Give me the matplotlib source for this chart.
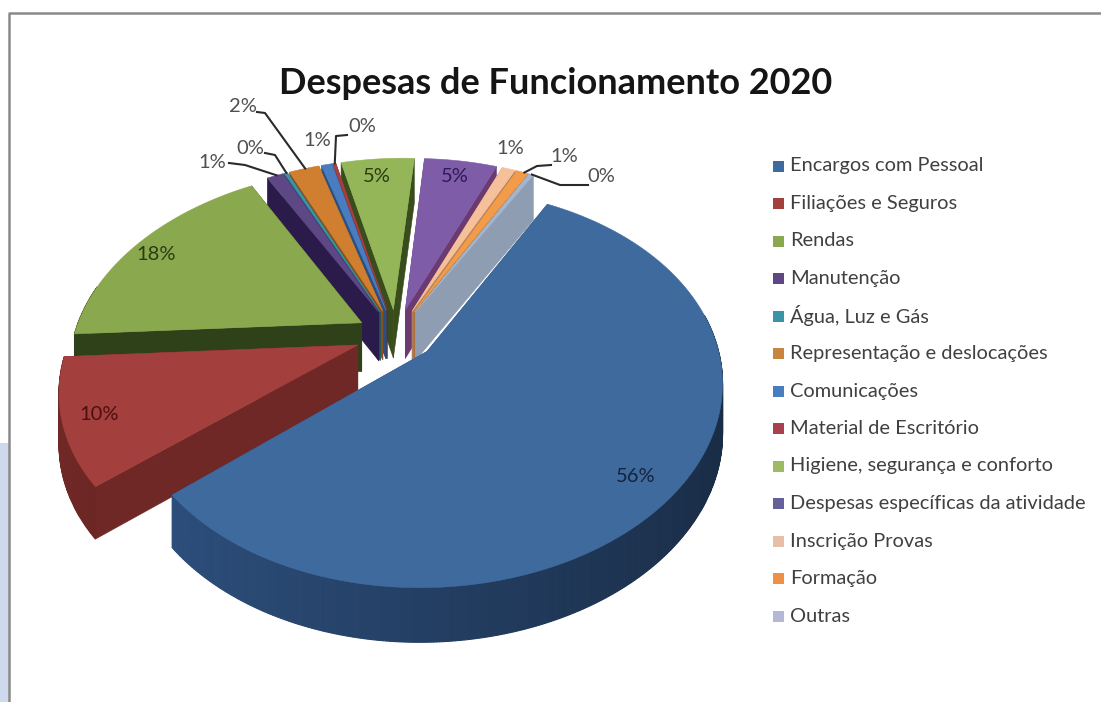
import numpy as np
import matplotlib
matplotlib.use("Agg")
import matplotlib.pyplot as plt
from matplotlib.patches import Rectangle

plt.rcParams["font.family"] = ["Lato", "DejaVu Sans"]

categories = ["Encargos com Pessoal", "Filiações e Seguros", "Rendas", "Manutenção",
              "Água, Luz e Gás", "Representação e deslocações", "Comunicações",
              "Material de Escritório", "Higiene, segurança e conforto",
              "Despesas específicas da atividade", "Inscrição Provas", "Formação", "Outras"]
values = [56.0, 10.4, 17.6, 1.1, 0.2, 2.0, 0.7, 0.2, 4.9, 4.9, 0.9, 0.8, 0.3]

top_colors = ["#3F6A9E", "#A33F3D", "#8AA84E", "#5E4785", "#3A93A8", "#D07F30", "#4A7CC0",
              "#A8403E", "#94B558", "#7F5CA8", "#F5C09A", "#F29B4B", "#A3B6CF"]
wall_colors = ["#2E5180", "#702826", "#2F4118", "#2A1B4A", "#1F5A68", "#8A5018", "#2A4F80",
               "#6A2826", "#384C1C", "#6A3A70", "#B08060", "#B06A28", "#8F9DB2"]
legend_colors = ["#3F6A9E", "#A33F3D", "#8AA84E", "#5E4785", "#3A93A8", "#C9853F", "#4A7CC0",
                 "#A8404E", "#9DBB62", "#66609A", "#E6BFA6", "#EE9148", "#B4B8D6"]

# pie geometry, in pixels of the picture
START = 27.5
EXPLODE = 0.14
CX, CY = 396, 335
RX, RY = 287, 187
DEPTH = 49
PERSP = 0.18
SHEAR = 0.04

# where the value labels sit: inside ones, then the ones with a leader
inside_labels = {0: (636, 477), 1: (99, 414), 2: (156, 255), 8: (377, 176), 9: (455, 176)}
outer_labels = {3: (212, 163), 4: (250, 149), 5: (243, 106), 6: (317, 140), 7: (362, 127),
                10: (510, 149), 11: (564, 157), 12: (601, 177)}
leader_start = {3: (229, 163), 4: (265, 153), 5: (257, 112), 7: (347, 135), 11: (551, 165), 12: (588, 185)}
leader_bend = {3: (245, 165), 4: (275, 155), 5: (265, 113), 7: (336, 136), 11: (537, 166), 12: (560, 185)}
label_colors = {0: "#14233C", 1: "#4E0F0F", 2: "#2C3C12", 8: "#2C3C12", 9: "#2E1A56"}


def project(u, v, z=0.0):
    w = 1 + PERSP * v
    return CX + RX * (u + SHEAR * v) / w, CY - RY * v / w + DEPTH * z / np.sqrt(w)


def shade(color, k):
    return tuple(c * k for c in matplotlib.colors.to_rgb(color))


def slice_geometry(a0, a1):
    mid = np.radians((a0 + a1) / 2)
    ou, ov = EXPLODE * np.sin(mid), EXPLODE * np.cos(mid)
    t = np.radians(np.linspace(a0, a1, max(int(a1 - a0) * 2, 4)))
    return ou, ov, ou + np.sin(t), ov + np.cos(t), t


def draw_slice(ax, a0, a1, top, wall):
    ou, ov, us, vs, t = slice_geometry(a0, a1)
    # radial walls, back one first
    walls = [(us[0], vs[0]), (us[-1], vs[-1])]
    walls.sort(key=lambda p: -p[1])
    for eu, ev in walls:
        pts = [project(ou, ov), project(eu, ev), project(eu, ev, 1), project(ou, ov, 1)]
        ax.fill(*zip(*pts), color=wall, lw=0.4)
    # outer wall in strips, darker toward the right, only where it faces the front
    for i in range(len(t) - 1):
        if np.cos(t[i]) > 0.2:
            continue
        pts = [project(us[i], vs[i]), project(us[i + 1], vs[i + 1]),
               project(us[i + 1], vs[i + 1], 1), project(us[i], vs[i], 1)]
        k = 0.78 - 0.24 * np.sin(t[i])
        ax.fill(*zip(*pts), color=shade(wall, min(k, 1.0)), lw=0.8)
    # top face
    xs, ys = project(us, vs)
    ox, oy = project(ou, ov)
    ax.fill(np.r_[ox, xs], np.r_[oy, ys], color=top, lw=0.4)


fig = plt.figure(figsize=(11.01, 7.02), dpi=100)
ax = fig.add_axes([0, 0, 1, 1])
ax.set_xlim(0, 1101)
ax.set_ylim(702, 0)
ax.axis("off")

# what shows of the page behind the chart
ax.add_patch(Rectangle((0, 443), 9, 259, color="#CFD9EE", lw=0))
ax.plot([9, 9, 1101], [702, 13, 13], color="#8A8A8A", lw=1.8)

ends = START + np.cumsum(values) * 3.6
starts = np.r_[START, ends[:-1]]
mids = np.radians((starts + ends) / 2)

order = np.argsort(-np.cos(mids))
for i in order:
    draw_slice(ax, starts[i], ends[i], top_colors[i], wall_colors[i])

ax.text(556, 83, "Despesas de Funcionamento 2020", fontsize=26, fontweight="bold",
        color="#151515", ha="center", va="center")

for i, (x, y) in inside_labels.items():
    ax.text(x, y, f"{round(values[i])}%", fontsize=14.5, color=label_colors[i], ha="center", va="center")
for i, (x, y) in outer_labels.items():
    ax.text(x, y, f"{round(values[i])}%", fontsize=14.5, color="#505050", ha="center", va="center")

for i, (x, y) in leader_start.items():
    ou, ov, us, vs, t = slice_geometry(starts[i], ends[i])
    ex, ey = project(us[len(us) // 2], vs[len(vs) // 2])
    bx, by = leader_bend[i]
    ax.plot([x, bx, ex], [y, by, ey], color="#2A2A2A", lw=1.5)

for i, name in enumerate(categories):
    y = 166 + i * 37.5
    ax.add_patch(Rectangle((773, y - 5.5), 11, 11, color=legend_colors[i], lw=0))
    ax.text(790, y, name, fontsize=14.4, color="#404040", ha="left", va="center")

fig.savefig("out.png", dpi=100)
